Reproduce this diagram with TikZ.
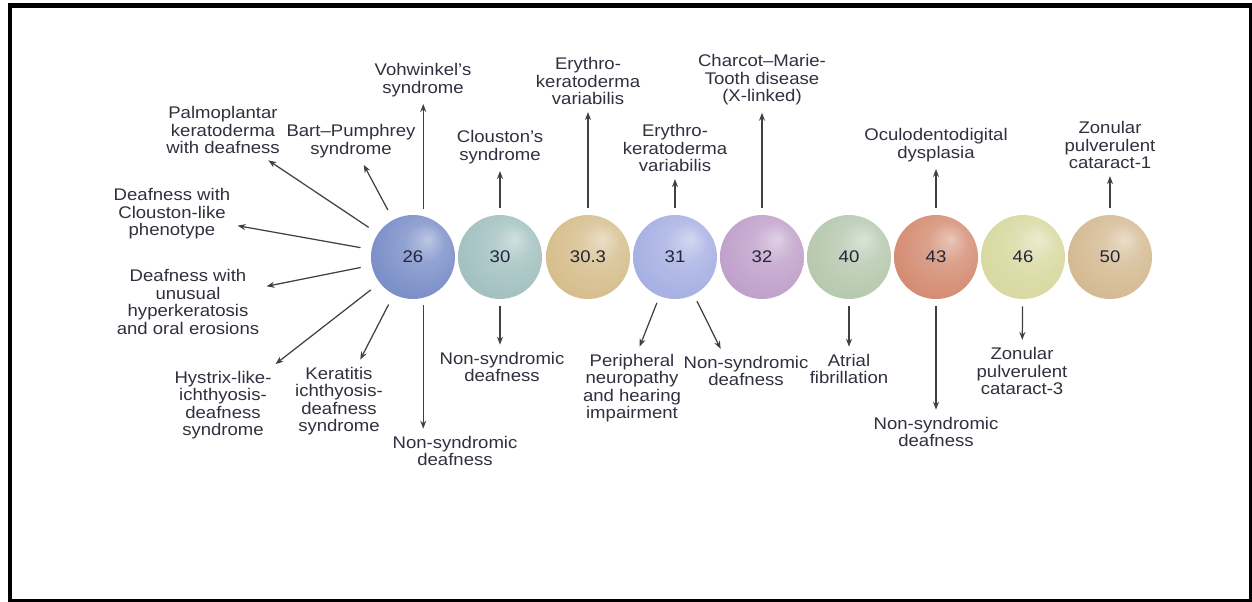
\documentclass[tikz,border=0pt]{standalone}
\usepackage{fontspec}
\setmainfont[FakeStretch=1.1]{Liberation Sans}
\usepackage{xcolor}
\usetikzlibrary{arrows.meta}

\definecolor{txt}{RGB}{52,46,62}
\definecolor{numc}{RGB}{34,36,56}
\definecolor{c26}{RGB}{122,142,200}
\definecolor{c30}{RGB}{162,192,192}
\definecolor{c303}{RGB}{214,190,140}
\definecolor{c31}{RGB}{166,176,226}
\definecolor{c32}{RGB}{192,160,202}
\definecolor{c40}{RGB}{182,200,174}
\definecolor{c43}{RGB}{212,140,114}
\definecolor{c46}{RGB}{216,216,160}
\definecolor{c50}{RGB}{212,186,146}

% soft pastel ball, highlight upper right
\makeatletter
\pgfdeclareradialshading[tikz@ball]{softball}{\pgfqpoint{9bp}{11bp}}{%
 color(0bp)=(tikz@ball!50!white);
 color(12bp)=(tikz@ball!82!white);
 color(30bp)=(tikz@ball);
 color(46bp)=(tikz@ball!92!black);
 color(50bp)=(tikz@ball!85!black)}
\makeatother

\begin{document}
\begin{tikzpicture}[x=0.02cm,y=-0.02cm,
 sphere/.style={circle,minimum size=1.68cm,inner sep=0pt,ball color=#1,shading=softball,
  text=numc,font=\fontsize{9.6}{11}\selectfont},
 lbl/.style={align=center,text=txt,inner sep=3pt,font=\fontsize{9.6}{10}\selectfont},
 conn/.style={draw=black!75,line width=0.7pt,-{Stealth[length=4.5pt,width=3.4pt]},
  shorten <=0.14cm,shorten >=1pt}]
\useasboundingbox (0,0) rectangle (1252,602);
\fill[white] (0,0) rectangle (1252,602);
\draw[line width=0.1cm] (10,5.5) rectangle (1251.5,601);

% connexin spheres
\node[sphere=c26] (s26) at (413,257) {26};
\node[sphere=c30] (s30) at (500,257) {30};
\node[sphere=c303] (s303) at (588,257) {30.3};
\node[sphere=c31] (s31) at (675,257) {31};
\node[sphere=c32] (s32) at (762,257) {32};
\node[sphere=c40] (s40) at (849,257) {40};
\node[sphere=c43] (s43) at (936,257) {43};
\node[sphere=c46] (s46) at (1023,257) {46};
\node[sphere=c50] (s50) at (1110,257) {50};

% disorders
\node[lbl] (vohw) at (423,80) {Vohwinkel's\\syndrome};
\node[lbl] (palmo) at (223,130) {Palmoplantar\\keratoderma\\with deafness};
\node[lbl] (bart) at (351,141) {Bart--Pumphrey\\syndrome};
\node[lbl] (clike) at (172,214) {Deafness with\\Clouston-like\\phenotype};
\node[lbl] (unus) at (188,302) {Deafness with\\unusual\\hyperkeratosis\\and oral erosions};
\node[lbl] (hyst) at (223,405) {Hystrix-like-\\ichthyosis-\\deafness\\syndrome};
\node[lbl] (kera) at (339,401) {Keratitis\\ichthyosis-\\deafness\\syndrome};
\node[lbl] (nsd26) at (455,451) {Non-syndromic\\deafness};
\node[lbl] (clou) at (500,147) {Clouston's\\syndrome};
\node[lbl] (nsd30) at (502,367) {Non-syndromic\\deafness};
\node[lbl] (ery1) at (588,81) {Erythro-\\keratoderma\\variabilis};
\node[lbl] (ery2) at (675,148) {Erythro-\\keratoderma\\variabilis};
\node[lbl] (periph) at (632,388) {Peripheral\\neuropathy\\and hearing\\impairment};
\node[lbl] (nsd31) at (746,371) {Non-syndromic\\deafness};
\node[lbl] (cmt) at (762,80) {Charcot--Marie-\\Tooth disease\\(X-linked)};
\node[lbl] (atrial) at (849,369) {Atrial\\fibrillation};
\node[lbl] (oculo) at (936,145) {Oculodentodigital\\dysplasia};
\node[lbl] (nsd43) at (936,432) {Non-syndromic\\deafness};
\node[lbl] (zon3) at (1022,371) {Zonular\\pulverulent\\cataract-3};
\node[lbl] (zon1) at (1110,145) {Zonular\\pulverulent\\cataract-1};

\draw[conn] (s26.76) -- (s26.76 |- vohw.south);
\draw[conn,shorten <=0.22cm] (s26) -- (palmo);
\draw[conn,shorten <=0.22cm] (s26) -- (bart);
\draw[conn,shorten <=0.22cm] (s26) -- (clike);
\draw[conn,shorten <=0.22cm] (s26) -- (unus);
\draw[conn,shorten <=0.22cm] (s26) -- (hyst);
\draw[conn,shorten <=0.22cm] (s26) -- (kera);
\draw[conn] (s26.-76) -- (s26.-76 |- nsd26.north);
\draw[conn] (s30) -- (clou);
\draw[conn] (s30) -- (nsd30.north -| s30);
\draw[conn] (s303) -- (ery1);
\draw[conn] (s31) -- (ery2);
\draw[conn] (s31) -- (periph.80);
\draw[conn] (s31) -- (nsd31.140);
\draw[conn] (s32) -- (cmt);
\draw[conn] (s40) -- (atrial);
\draw[conn] (s43) -- (oculo);
\draw[conn] (s43) -- (nsd43);
\draw[conn] (s46) -- (zon3);
\draw[conn] (s50) -- (zon1);
\end{tikzpicture}
\end{document}
